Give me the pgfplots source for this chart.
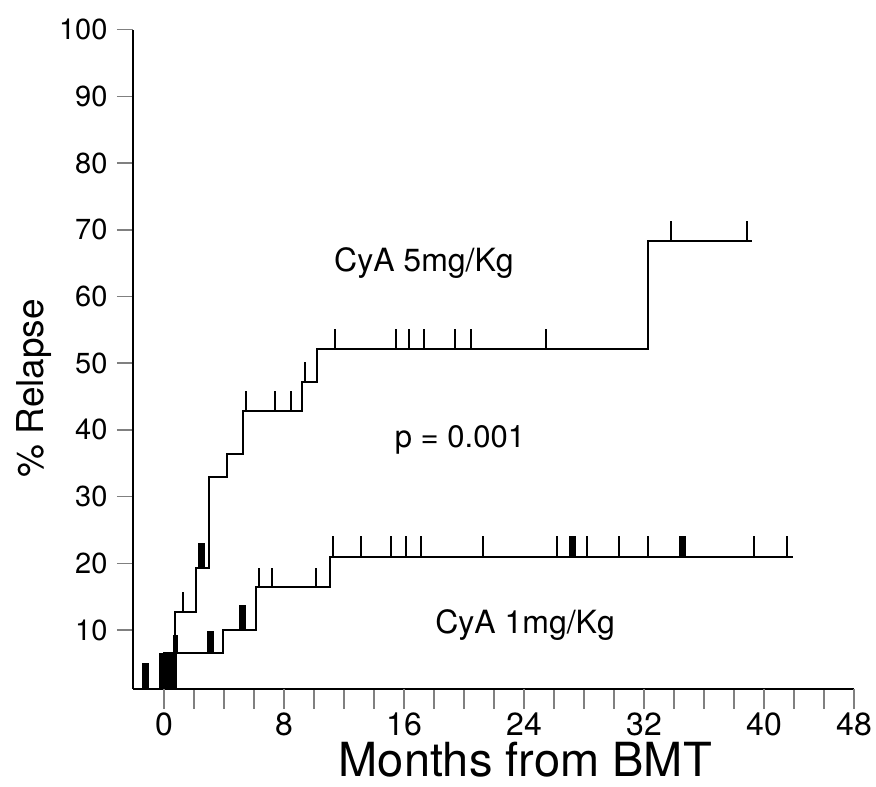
\documentclass[border=0pt]{standalone}
\usepackage{fontspec}
\setmainfont{TeX Gyre Heros}
\usepackage{pgfplots}
\pgfplotsset{compat=1.18}
\begin{document}
\begin{tikzpicture}
\begin{axis}[
  scale only axis, width=721pt, height=659pt,
  xmin=-2.07, xmax=46, ymin=1.2, ymax=100,
  axis lines*=left,
  axis line style={line width=1.8pt},
  clip=false,
  tick align=outside,
  major tick length=16pt,
  minor tick length=20pt,
  xtick={0,8,16,24,32,40,46},
  xticklabels={0,8,16,24,32,40,48},
  minor xtick={2,4,6,10,12,14,18,20,22,26,28,30,34,36,38,42,44},
  extra x ticks={0,8,16,24,32,40,46},
  extra x tick labels={},
  extra x tick style={major tick length=20pt},
  ytick={10,20,30,40,50,60,70,80,90,100},
  tick style={line width=1.6pt},
  minor tick style={line width=1.6pt},
  /pgf/number format/assume math mode=true,
  xticklabel style={font=\fontsize{32}{36}\selectfont, inner sep=0pt, yshift=-8pt},
  yticklabel style={font=\fontsize{29}{33}\selectfont, xshift=-6pt},
  xlabel={Months from BMT},
  ylabel={\% Relapse},
  x label style={at={(axis description cs:0.544,-0.1335)}, anchor=base, inner sep=0pt, font=\fontsize{47}{52}\selectfont},
  y label style={at={(axis description cs:-0.1248,0.456)}, anchor=base, rotate=0, inner sep=0pt, font=\fontsize{37}{42}\selectfont},
]
% CyA 5mg/Kg step curve
\addplot[const plot, black, line width=1.8pt] coordinates {
 (0,1.2) (0,6.55) (0.73,12.7) (2.13,19.3) (3.0,32.9) (4.2,36.4) (5.27,42.8)
 (9.2,47.2) (10.2,52.1) (32.27,68.3) (39.2,68.3)};
% CyA 1mg/Kg step curve
\addplot[const plot, black, line width=1.8pt] coordinates {
 (0,1.2) (0,6.55) (3.93,10.0) (6.13,16.4) (11.07,21.0) (41.93,21.0)};
% censor ticks, 5mg
\addplot[black, line width=1.8pt, quiver={u=0, v=\thisrow{h}}] table[x=x, y=y] {
x y h
1.27 12.7 3
5.47 42.8 3
7.40 42.8 3
8.47 42.8 3
9.40 47.2 3
11.40 52.1 3
15.47 52.1 3
16.33 52.1 3
17.33 52.1 3
19.40 52.1 3
20.47 52.1 3
25.47 52.1 3
33.80 68.3 3
38.87 68.3 3
};
% censor ticks, 1mg
\addplot[black, line width=1.8pt, quiver={u=0, v=\thisrow{h}}] table[x=x, y=y] {
x y h
6.33 16.4 2.9
7.20 16.4 2.9
10.13 16.4 2.9
11.27 21.0 3.1
13.13 21.0 3.1
15.13 21.0 3.1
16.13 21.0 3.1
17.13 21.0 3.1
21.27 21.0 3.1
26.20 21.0 3.1
28.20 21.0 3.1
30.33 21.0 3.1
32.27 21.0 3.1
39.33 21.0 3.1
41.53 21.0 3.1
};
% clustered censor marks (blocks)
\addplot[black, line width=7pt, quiver={u=0, v=\thisrow{h}}] table[x=x, y=y] {
x y h
-1.23 1.2 3.8
3.10 6.55 3.3
5.23 10.0 3.75
2.50 19.3 3.7
27.23 21.0 3.1
34.57 21.0 3.1
};
\addplot[black, line width=18pt, quiver={u=0, v=\thisrow{h}}] table[x=x, y=y] {
x y h
0.27 1.2 5.35
};
\addplot[black, line width=5pt, quiver={u=0, v=\thisrow{h}}] table[x=x, y=y] {
x y h
0.77 6.55 2.75
};
\node[anchor=base, font=\fontsize{32}{36}\selectfont] at (axis cs:17.33,63.7) {CyA 5mg/Kg};
\node[anchor=base, font=\fontsize{32}{36}\selectfont] at (axis cs:24.07,9.55) {CyA 1mg/Kg};
\node[anchor=base, font=\fontsize{31}{35}\selectfont] at (axis cs:19.73,37.4) {p = 0.001};
\end{axis}
\pgfresetboundingbox
\path ([shift={(-133pt,-97.3pt)}]current axis.south west) rectangle ([shift={(22pt,29.7pt)}]current axis.north east);
\end{tikzpicture}
\end{document}
